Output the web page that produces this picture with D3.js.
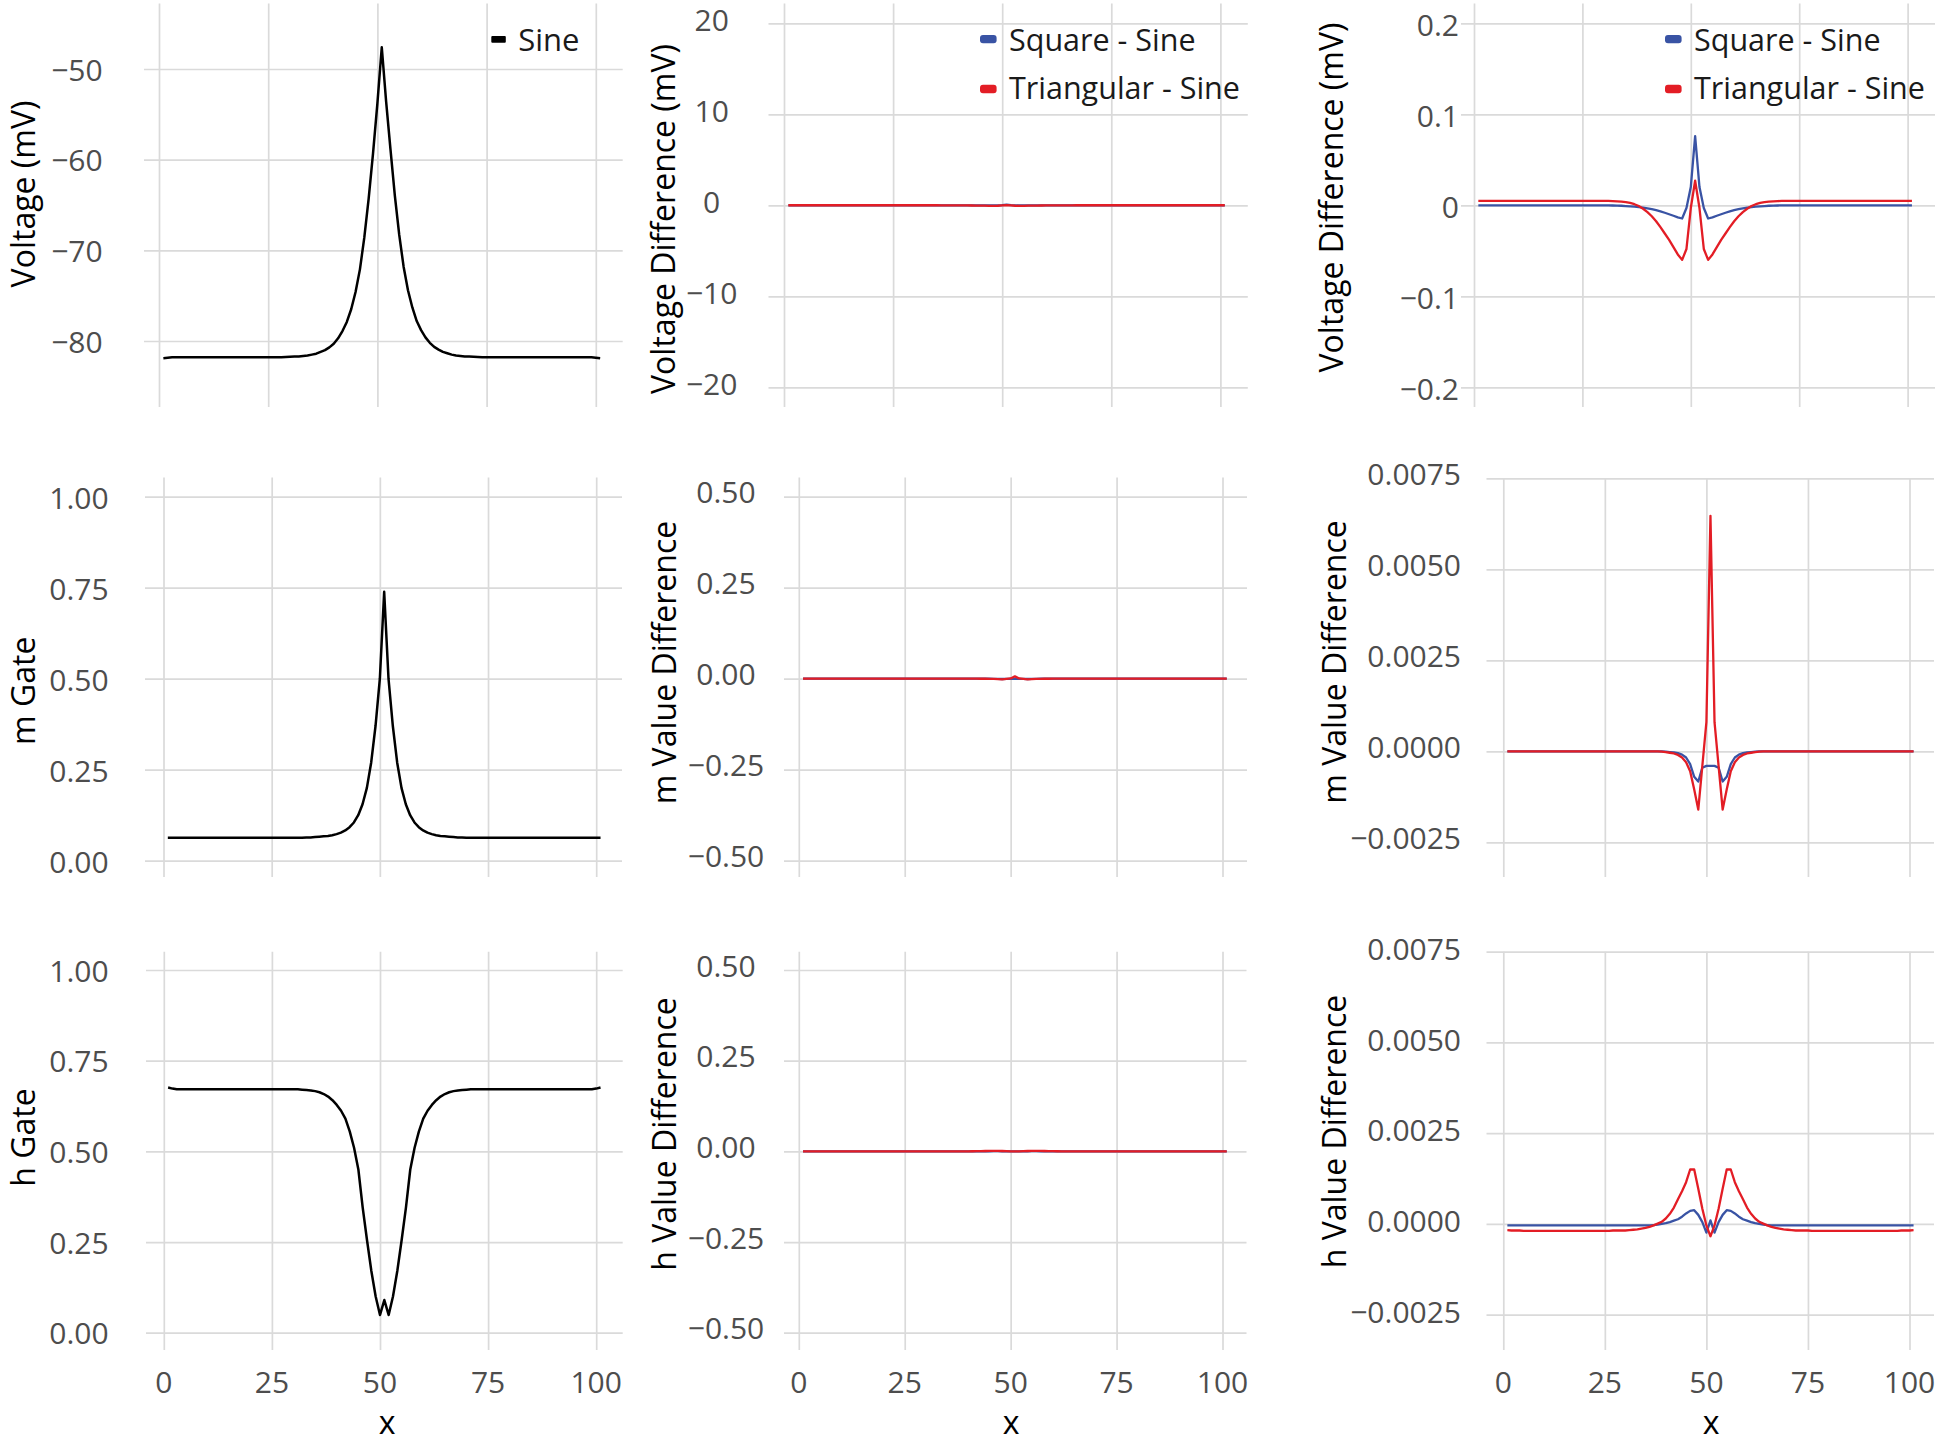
<!DOCTYPE html>
<html><head><meta charset="utf-8">
<script src="https://cdn.jsdelivr.net/npm/d3@7"></script>
<style>
html,body{margin:0;padding:0;background:#fff;}
svg{display:block;}
text{font-family:"Open Sans","Noto Sans",sans-serif;}
</style></head><body>
<svg id="chart" width="1951" height="1444"></svg>
<script>
// ---------------- DATA ----------------
const xValues = [1,2,3,4,5,6,7,8,9,10,11,12,13,14,15,16,17,18,19,20,
21,22,23,24,25,26,27,28,29,30,31,32,33,34,35,36,37,38,39,40,
41,42,43,44,45,46,47,48,49,50,51,52,53,54,55,56,57,58,59,60,
61,62,63,64,65,66,67,68,69,70,71,72,73,74,75,76,77,78,79,80,
81,82,83,84,85,86,87,88,89,90,91,92,93,94,95,96,97,98,99,100,101];

const voltageSine = [
-81.9,-81.85,-81.8,-81.8,-81.8,-81.8,-81.8,-81.8,-81.8,-81.8,
-81.8,-81.8,-81.8,-81.8,-81.8,-81.8,-81.8,-81.8,-81.8,-81.8,
-81.8,-81.8,-81.8,-81.8,-81.8,-81.8,-81.8,-81.8,-81.77,-81.75,
-81.72,-81.7,-81.65,-81.6,-81.5,-81.4,-81.2,-81.0,-80.7,-80.3,
-79.7,-78.9,-77.9,-76.5,-74.6,-72.1,-68.6,-64.3,-59.3,-53.8,
-47.6,-53.6,-58.9,-64.0,-68.3,-71.8,-74.4,-76.3,-77.8,-78.8,
-79.6,-80.2,-80.65,-80.95,-81.2,-81.35,-81.5,-81.6,-81.65,-81.7,
-81.72,-81.75,-81.77,-81.8,-81.8,-81.8,-81.8,-81.8,-81.8,-81.8,
-81.8,-81.8,-81.8,-81.8,-81.8,-81.8,-81.8,-81.8,-81.8,-81.8,
-81.8,-81.8,-81.8,-81.8,-81.8,-81.8,-81.8,-81.8,-81.8,-81.85,
-81.9];

const voltageDiffSquare = [
0,0,0,0,0,0,0,0,0,0,
0,0,0,0,0,0,0,0,0,0,
0,0,0,0,0,0,0,0,0,0,
-0.0001,-0.0002,-0.0003,-0.0005,-0.0008,-0.0011,-0.0015,-0.002,-0.0026,-0.0034,
-0.0043,-0.0054,-0.0067,-0.0082,-0.0098,-0.0115,-0.0132,-0.0145,-0.003,0.02,
0.076,0.02,-0.003,-0.0145,-0.0132,-0.0115,-0.0098,-0.0082,-0.0067,-0.0054,
-0.0043,-0.0034,-0.0026,-0.002,-0.0015,-0.0011,-0.0008,-0.0005,-0.0003,-0.0002,
-0.0001,0,0,0,0,0,0,0,0,0,
0,0,0,0,0,0,0,0,0,0,
0,0,0,0,0,0,0,0,0,0,
0];

const voltageDiffTriangular = [
0.0049,0.0048,0.0048,0.0048,0.0048,0.0048,0.0048,0.0048,0.0048,0.0048,
0.0048,0.0048,0.0048,0.0048,0.0048,0.0048,0.0048,0.0048,0.0048,0.0048,
0.0048,0.0048,0.0048,0.0048,0.0048,0.0048,0.0048,0.0048,0.0048,0.0048,
0.0048,0.0046,0.0044,0.0041,0.0035,0.0026,0.0012,-0.0008,-0.0038,-0.0075,
-0.012,-0.0175,-0.024,-0.031,-0.038,-0.046,-0.054,-0.060,-0.048,-0.003,
0.027,-0.003,-0.048,-0.060,-0.054,-0.046,-0.038,-0.031,-0.024,-0.0175,
-0.012,-0.0075,-0.0038,-0.0008,0.0012,0.0026,0.0035,0.0041,0.0044,0.0046,
0.0048,0.0048,0.0048,0.0048,0.0048,0.0048,0.0048,0.0048,0.0048,0.0048,
0.0048,0.0048,0.0048,0.0048,0.0048,0.0048,0.0048,0.0048,0.0048,0.0048,
0.0048,0.0048,0.0048,0.0048,0.0048,0.0048,0.0048,0.0048,0.0048,0.0048,
0.0048];

const mGateSine = [
0.063,0.063,0.063,0.063,0.063,0.063,0.063,0.063,0.063,0.063,
0.063,0.063,0.063,0.063,0.063,0.063,0.063,0.063,0.063,0.063,
0.063,0.063,0.063,0.063,0.063,0.063,0.063,0.063,0.063,0.063,
0.063,0.063,0.064,0.064,0.065,0.066,0.067,0.068,0.070,0.073,
0.077,0.083,0.092,0.105,0.125,0.155,0.20,0.27,0.37,0.50,
0.739,0.50,0.37,0.27,0.20,0.155,0.125,0.105,0.092,0.083,
0.077,0.073,0.070,0.068,0.067,0.066,0.065,0.064,0.064,0.063,
0.063,0.063,0.063,0.063,0.063,0.063,0.063,0.063,0.063,0.063,
0.063,0.063,0.063,0.063,0.063,0.063,0.063,0.063,0.063,0.063,
0.063,0.063,0.063,0.063,0.063,0.063,0.063,0.063,0.063,0.063,
0.063];

const mDiffSquare = [
0,0,0,0,0,0,0,0,0,0,
0,0,0,0,0,0,0,0,0,0,
0,0,0,0,0,0,0,0,0,0,
0,0,0,0,0,0,0,0,0,-0.00001,
-0.00002,-0.00003,-0.00005,-0.00009,-0.00017,-0.00035,-0.0007,-0.00083,-0.00045,-0.0004,
-0.0004,-0.0004,-0.00045,-0.00083,-0.0007,-0.00035,-0.00017,-0.00009,-0.00005,-0.00003,
-0.00002,-0.00001,0,0,0,0,0,0,0,0,
0,0,0,0,0,0,0,0,0,0,
0,0,0,0,0,0,0,0,0,0,
0,0,0,0,0,0,0,0,0,0,
0];

const mDiffTriangular = [
0,0,0,0,0,0,0,0,0,0,
0,0,0,0,0,0,0,0,0,0,
0,0,0,0,0,0,0,0,0,0,
0,0,0,0,0,0,0,0,-0.00001,-0.00002,
-0.00004,-0.00006,-0.0001,-0.00017,-0.0003,-0.00055,-0.00105,-0.0016,-0.0004,0.0008,
0.00647,0.0008,-0.0004,-0.0016,-0.00105,-0.00055,-0.0003,-0.00017,-0.0001,-0.00006,
-0.00004,-0.00002,-0.00001,0,0,0,0,0,0,0,
0,0,0,0,0,0,0,0,0,0,
0,0,0,0,0,0,0,0,0,0,
0,0,0,0,0,0,0,0,0,0,
0];

const hGateSine = [
0.676,0.673,0.671,0.671,0.671,0.671,0.671,0.671,0.671,0.671,
0.671,0.671,0.671,0.671,0.671,0.671,0.671,0.671,0.671,0.671,
0.671,0.671,0.671,0.671,0.671,0.671,0.671,0.671,0.671,0.671,
0.671,0.670,0.669,0.668,0.666,0.663,0.658,0.651,0.641,0.628,
0.612,0.59,0.555,0.51,0.45,0.345,0.255,0.17,0.10,0.049,
0.09,0.049,0.10,0.17,0.255,0.345,0.45,0.51,0.555,0.59,
0.612,0.628,0.641,0.651,0.658,0.663,0.666,0.668,0.669,0.670,
0.671,0.671,0.671,0.671,0.671,0.671,0.671,0.671,0.671,0.671,
0.671,0.671,0.671,0.671,0.671,0.671,0.671,0.671,0.671,0.671,
0.671,0.671,0.671,0.671,0.671,0.671,0.671,0.671,0.671,0.673,
0.676];

const hDiffSquare = [
-0.00004,-0.00004,-0.00004,-0.00004,-0.00004,-0.00004,-0.00004,-0.00004,-0.00004,-0.00004,
-0.00004,-0.00004,-0.00004,-0.00004,-0.00004,-0.00004,-0.00004,-0.00004,-0.00004,-0.00004,
-0.00004,-0.00004,-0.00004,-0.00004,-0.00004,-0.00004,-0.00004,-0.00004,-0.00004,-0.00004,
-0.00004,-0.00004,-0.00004,-0.00004,-0.00004,-0.00004,-0.00003,-0.00002,0,0.00002,
0.00005,0.00009,0.00013,0.0002,0.00029,0.00036,0.00038,0.00025,0.00005,-0.00024,
0.0001,-0.00024,0.00005,0.00025,0.00038,0.00036,0.00029,0.0002,0.00013,0.00009,
0.00005,0.00002,0,-0.00002,-0.00003,-0.00004,-0.00004,-0.00004,-0.00004,-0.00004,
-0.00004,-0.00004,-0.00004,-0.00004,-0.00004,-0.00004,-0.00004,-0.00004,-0.00004,-0.00004,
-0.00004,-0.00004,-0.00004,-0.00004,-0.00004,-0.00004,-0.00004,-0.00004,-0.00004,-0.00004,
-0.00004,-0.00004,-0.00004,-0.00004,-0.00004,-0.00004,-0.00004,-0.00004,-0.00004,-0.00004,
-0.00004];

const hDiffTriangular = [
-0.00017,-0.00018,-0.00018,-0.00018,-0.00019,-0.00019,-0.00019,-0.00019,-0.00019,-0.00019,
-0.00019,-0.00019,-0.00019,-0.00019,-0.00019,-0.00019,-0.00019,-0.00019,-0.00019,-0.00019,
-0.00019,-0.00019,-0.00019,-0.00019,-0.00019,-0.00019,-0.00018,-0.00018,-0.00018,-0.00018,
-0.00017,-0.00016,-0.00015,-0.00013,-0.00011,-0.00008,-0.00004,0.00001,0.00006,0.00015,
0.00028,0.00045,0.00068,0.0009,0.00115,0.0015,0.0015,0.00097,0.00042,-0.00004,
-0.00034,-0.00004,0.00042,0.00097,0.0015,0.0015,0.00115,0.0009,0.00068,0.00045,
0.00028,0.00015,0.00006,0.00001,-0.00004,-0.00008,-0.00011,-0.00013,-0.00015,-0.00016,
-0.00017,-0.00018,-0.00018,-0.00018,-0.00018,-0.00019,-0.00019,-0.00019,-0.00019,-0.00019,
-0.00019,-0.00019,-0.00019,-0.00019,-0.00019,-0.00019,-0.00019,-0.00019,-0.00019,-0.00019,
-0.00019,-0.00019,-0.00019,-0.00019,-0.00019,-0.00019,-0.00019,-0.00018,-0.00018,-0.00018,
-0.00017];

// tick values and labels
const xTicks = [0,25,50,75,100];
const xTickLabels = ["0","25","50","75","100"];
const voltageTicks = [-80,-70,-60,-50];
const voltageTickLabels = ["\u221280","\u221270","\u221260","\u221250"];
const voltageDiffTicks = [-20,-10,0,10,20];
const voltageDiffTickLabels = ["\u221220","\u221210","0","10","20"];
const voltageDiffZoomTicks = [-0.2,-0.1,0,0.1,0.2];
const voltageDiffZoomTickLabels = ["\u22120.2","\u22120.1","0","0.1","0.2"];
const gateTicks = [0,0.25,0.5,0.75,1];
const gateTickLabels = ["0.00","0.25","0.50","0.75","1.00"];
const gateDiffTicks = [-0.5,-0.25,0,0.25,0.5];
const gateDiffTickLabels = ["\u22120.50","\u22120.25","0.00","0.25","0.50"];
const gateDiffZoomTicks = [-0.0025,0,0.0025,0.005,0.0075];
const gateDiffZoomTickLabels = ["\u22120.0025","0.0000","0.0025","0.0050","0.0075"];

const seriesNames = ["Square - Sine","Triangular - Sine"];

// ---------------- STYLE / LAYOUT ----------------
const colors = {"Sine":"#000000","Square - Sine":"#3953a4","Triangular - Sine":"#e31d25"};

const panels = [
 {id:"r1c1", series:[["Sine",voltageSine]], ticks:voltageTicks, labels:voltageTickLabels, title:"Voltage (mV)", legend:["Sine"]},
 {id:"r1c2", series:[["Square - Sine",voltageDiffSquare],["Triangular - Sine",voltageDiffTriangular]], ticks:voltageDiffTicks, labels:voltageDiffTickLabels, title:"Voltage Difference (mV)", legend:seriesNames},
 {id:"r1c3", series:[["Square - Sine",voltageDiffSquare],["Triangular - Sine",voltageDiffTriangular]], ticks:voltageDiffZoomTicks, labels:voltageDiffZoomTickLabels, title:"Voltage Difference (mV)", legend:seriesNames},
 {id:"r2c1", series:[["Sine",mGateSine]], ticks:gateTicks, labels:gateTickLabels, title:"m Gate"},
 {id:"r2c2", series:[["Square - Sine",mDiffSquare],["Triangular - Sine",mDiffTriangular]], ticks:gateDiffTicks, labels:gateDiffTickLabels, title:"m Value Difference"},
 {id:"r2c3", series:[["Square - Sine",mDiffSquare],["Triangular - Sine",mDiffTriangular]], ticks:gateDiffZoomTicks, labels:gateDiffZoomTickLabels, title:"m Value Difference"},
 {id:"r3c1", series:[["Sine",hGateSine]], ticks:gateTicks, labels:gateTickLabels, title:"h Gate", xAxis:true},
 {id:"r3c2", series:[["Square - Sine",hDiffSquare],["Triangular - Sine",hDiffTriangular]], ticks:gateDiffTicks, labels:gateDiffTickLabels, title:"h Value Difference", xAxis:true},
 {id:"r3c3", series:[["Square - Sine",hDiffSquare],["Triangular - Sine",hDiffTriangular]], ticks:gateDiffZoomTicks, labels:gateDiffZoomTickLabels, title:"h Value Difference", xAxis:true}
];

const layout = {
 r1c1:{left:144,right:622.7,top:3.5,bottom:407,x0:159,x100:595.8,yPx:[341,69],labelX:102.7,anchor:"end",labelDy:1,titleX:34.5,titleY:194,
       legend:{keyX:491.3,keyW:14.5,keyH:6.7,textX:518.2,rows:[39.3],base:[50.6]}},
 r1c2:{left:768.5,right:1247.8,top:3.5,bottom:407,x0:784,x100:1220.4,yPx:[387.3,23.3],labelX:711.7,anchor:"middle",labelDy:-3.5,titleX:675,titleY:219,
       legend:{keyX:980,keyW:16.6,keyH:8.3,textX:1009,rows:[39.2,89],base:[50.6,99]}},
 r1c3:{left:1461,right:1935,top:3.5,bottom:407,x0:1474,x100:1907.6,yPx:[387.3,23.3],labelX:1459,anchor:"end",labelDy:2,titleX:1343,titleY:197.5,
       legend:{keyX:1665,keyW:16.6,keyH:8.3,textX:1694,rows:[39.2,89],base:[50.6,99]}},
 r2c1:{left:145,right:622,top:477.5,bottom:877,x0:163.5,x100:596.2,yPx:[860.7,496.7],labelX:108.6,anchor:"end",labelDy:1.5,titleX:34.5,titleY:690.8},
 r2c2:{left:784,right:1247,top:477.5,bottom:877,x0:798.8,x100:1222.5,yPx:[860.7,496.7],labelX:726,anchor:"middle",labelDy:-4.5,titleX:676,titleY:662.6},
 r2c3:{left:1486.5,right:1934,top:478.3,bottom:877,x0:1503.3,x100:1909.5,yPx:[842.3,478.3],labelX:1461,anchor:"end",labelDy:-4.5,titleX:1346,titleY:662},
 r3c1:{left:146,right:622.7,top:951.7,bottom:1350,x0:163.8,x100:596.2,yPx:[1332.7,970],labelX:108.6,anchor:"end",labelDy:1,titleX:34.5,titleY:1137.5,xTitleX:387},
 r3c2:{left:784,right:1246.5,top:951.7,bottom:1350,x0:798.8,x100:1222.5,yPx:[1332.7,970],labelX:726,anchor:"middle",labelDy:-4,titleX:676,titleY:1134,xTitleX:1011},
 r3c3:{left:1486.5,right:1934,top:951.7,bottom:1350,x0:1503.3,x100:1909.5,yPx:[1314.7,951.7],labelX:1461,anchor:"end",labelDy:-2.5,titleX:1346,titleY:1131.5,xTitleX:1711}
};

const gridColor = "#dadada";
const tickColor = "#4d4d4d";
const tickFont = 30;
const titleFont = 32;
const legendFont = 30.5;
const xTitleBaseline = 1434;

// ---------------- DRAW ----------------
const svg = d3.select("#chart");
svg.append("rect").attr("width",1951).attr("height",1444).attr("fill","#fff");

panels.forEach(p => {
  const L = layout[p.id];
  const g = svg.append("g").attr("class","panel "+p.id);
  const x = d3.scaleLinear().domain([xTicks[0], xTicks[xTicks.length-1]]).range([L.x0, L.x100]);
  const y = d3.scaleLinear().domain([p.ticks[0], p.ticks[p.ticks.length-1]]).range(L.yPx);

  // horizontal gridlines via axis
  const yAxis = d3.axisLeft(y).tickValues(p.ticks).tickSize(-(L.right - L.left)).tickFormat("");
  const ya = g.append("g").attr("transform",`translate(${L.left},0)`).call(yAxis);
  ya.select(".domain").remove();
  ya.selectAll(".tick line").attr("stroke",gridColor).attr("stroke-width",1.7);

  // vertical gridlines via axis
  const xAxis = d3.axisBottom(x).tickValues(xTicks).tickSize(-(L.bottom - L.top)).tickFormat("");
  const xa = g.append("g").attr("transform",`translate(0,${L.bottom})`).call(xAxis);
  xa.select(".domain").remove();
  xa.selectAll(".tick line").attr("stroke",gridColor).attr("stroke-width",1.7);

  // y tick labels
  g.selectAll("text.ylab").data(p.ticks).enter().append("text")
    .attr("class","ylab")
    .attr("x",L.labelX)
    .attr("y",d => y(d) + L.labelDy + tickFont*0.357)
    .attr("text-anchor",L.anchor)
    .attr("font-size",tickFont)
    .attr("fill",tickColor)
    .text((d,i) => p.labels[i]);

  // x tick labels & title
  if (p.xAxis) {
    g.selectAll("text.xlab").data(xTicks).enter().append("text")
      .attr("class","xlab")
      .attr("x",d => x(d))
      .attr("y",1393)
      .attr("text-anchor","middle")
      .attr("font-size",tickFont)
      .attr("fill",tickColor)
      .text((d,i) => xTickLabels[i]);
    g.append("text").attr("x",L.xTitleX).attr("y",xTitleBaseline)
      .attr("text-anchor","middle").attr("font-size",titleFont).attr("fill","#000").text("x");
  }

  // y title
  g.append("text")
    .attr("transform",`translate(${L.titleX},${L.titleY}) rotate(-90)`)
    .attr("text-anchor","middle")
    .attr("font-size",titleFont)
    .attr("fill","#000")
    .text(p.title);

  // series
  const line = d3.line().x((d,i) => x(xValues[i])).y(d => y(d));
  p.series.forEach(([name, vals]) => {
    g.append("path").datum(vals)
      .attr("d",line)
      .attr("fill","none")
      .attr("stroke",colors[name])
      .attr("stroke-width", name === "Sine" ? 2.5 : 2.3)
      .attr("stroke-linejoin","round");
  });

  // legend
  if (p.legend) {
    const lg = L.legend;
    p.legend.forEach((name,i) => {
      g.append("rect")
        .attr("x",lg.keyX).attr("y",lg.rows[i]-lg.keyH/2)
        .attr("width",lg.keyW).attr("height",lg.keyH)
        .attr("rx", name === "Sine" ? 1 : 3)
        .attr("fill",colors[name]);
      g.append("text").attr("x",lg.textX).attr("y",lg.base[i])
        .attr("font-size", name === "Sine" ? 31 : legendFont)
        .attr("fill","#1a1a1a").text(name);
    });
  }
});
</script>
</body></html>
